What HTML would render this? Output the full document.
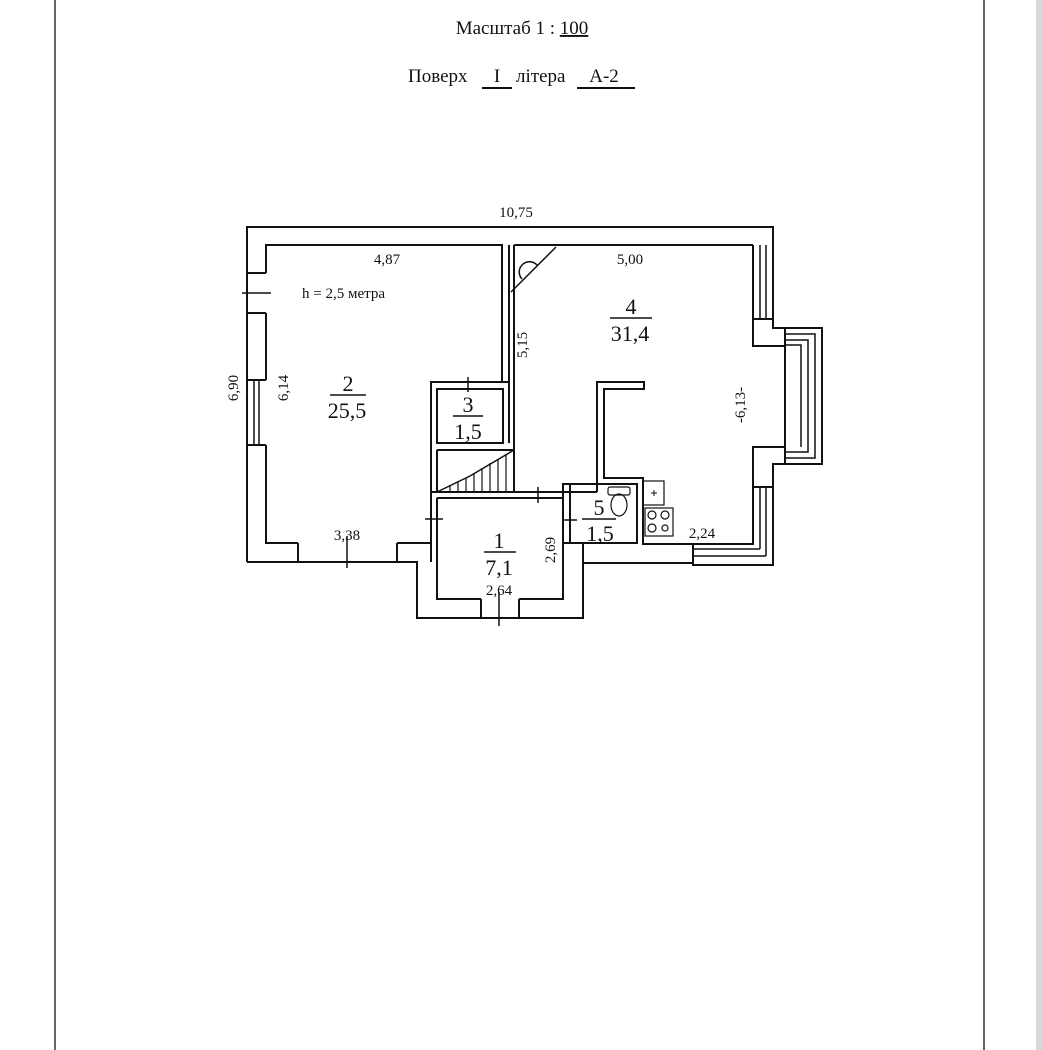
<!DOCTYPE html>
<html><head><meta charset="utf-8"><style>
html,body{margin:0;padding:0;background:#fff;}
svg{display:block;}
text{font-family:"Liberation Serif",serif;fill:#111;}
</style></head><body>
<svg width="1043" height="1050" viewBox="0 0 1043 1050" xmlns="http://www.w3.org/2000/svg">
<rect x="0" y="0" width="1043" height="1050" fill="#fff"/>
<rect x="1036" y="0" width="7" height="1050" fill="#d8d8d8"/>
<line x1="55" y1="0" x2="55" y2="1050" stroke="#333" stroke-width="1.5"/>
<line x1="984" y1="0" x2="984" y2="1050" stroke="#333" stroke-width="1.5"/>

<text x="522" y="34" font-size="19" text-anchor="middle">Масштаб 1 : <tspan text-decoration="underline">100</tspan></text>
<text x="408" y="82" font-size="19">Поверх</text>
<line x1="482" y1="88" x2="512" y2="88" stroke="#111" stroke-width="2"/>
<text x="497" y="82" font-size="19" text-anchor="middle">I</text>
<text x="516" y="82" font-size="19">літера</text>
<line x1="577" y1="88" x2="635" y2="88" stroke="#111" stroke-width="2"/>
<text x="604" y="82" font-size="19" text-anchor="middle">А-2</text>

<g fill="none" stroke="#111" stroke-width="2">
<!-- outer outline -->
<polyline points="247,562 247,227 773,227 773,319"/>
<polyline points="773,487 773,565 693,565 693,563 583,563 583,618 417,618 417,562 247,562"/>
<!-- room 2 inner -->
<polyline points="266,273 266,245 502,245 502,382 431,382 431,543 397,543"/>
<polyline points="298,543 266,543 266,445"/>
<line x1="266" y1="313" x2="266" y2="380"/>
<!-- left wall windows -->
<line x1="247" y1="273" x2="266" y2="273"/>
<line x1="247" y1="313" x2="266" y2="313"/>
<line x1="247" y1="380" x2="266" y2="380"/>
<line x1="247" y1="445" x2="266" y2="445"/>
<line x1="254" y1="380" x2="254" y2="445" stroke-width="1.5"/>
<line x1="259" y1="380" x2="259" y2="445" stroke-width="1.5"/>
<line x1="242" y1="293" x2="271" y2="293" stroke-width="1.5"/>
<!-- bottom window room 2 -->
<line x1="298" y1="543" x2="298" y2="562"/>
<line x1="397" y1="543" x2="397" y2="562"/>
<line x1="347" y1="536" x2="347" y2="568" stroke-width="1.5"/>
<!-- partition 2/4 -->
<line x1="509" y1="245" x2="509" y2="382"/>
<line x1="514" y1="245" x2="514" y2="450"/>
<!-- room 3 -->
<rect x="437" y="389" width="66" height="54"/>
<line x1="502" y1="382" x2="509" y2="382"/>
<line x1="509" y1="382" x2="509" y2="443"/>
<line x1="468" y1="377" x2="468" y2="392" stroke-width="1.5"/>
<!-- stair -->
<polyline points="437,450 514,450 514,492"/>
<line x1="437" y1="450" x2="437" y2="492"/>
<line x1="431" y1="492" x2="597" y2="492"/>
<line x1="437" y1="498" x2="563" y2="498"/>
<polyline points="437,492 470,476 514,450" stroke-width="1.5"/>
<g stroke-width="1.2"><line x1="450" y1="485" x2="450" y2="492"/><line x1="458" y1="481" x2="458" y2="492"/><line x1="466" y1="478" x2="466" y2="492"/><line x1="474" y1="473" x2="474" y2="492"/><line x1="482" y1="468" x2="482" y2="492"/><line x1="490" y1="463" x2="490" y2="492"/><line x1="498" y1="459" x2="498" y2="492"/><line x1="506" y1="454" x2="506" y2="492"/></g>
<line x1="538" y1="487" x2="538" y2="503" stroke-width="1.5"/>
<!-- room 1 -->
<polyline points="437,498 437,599 481,599"/>
<polyline points="519,599 563,599 563,498"/>
<line x1="481" y1="599" x2="481" y2="618"/>
<line x1="519" y1="599" x2="519" y2="618"/>
<line x1="499" y1="592" x2="499" y2="626" stroke-width="1.5"/>
<line x1="431" y1="543" x2="431" y2="562"/>
<line x1="425" y1="519" x2="443" y2="519" stroke-width="1.5"/>
<!-- room 5 -->
<polyline points="563,498 563,484 597,484"/>
<rect x="570" y="484" width="67" height="59"/>
<line x1="563" y1="543" x2="570" y2="543"/>
<line x1="563" y1="520" x2="577" y2="520" stroke-width="1.5"/>
<!-- L partition -->
<polyline points="597,492 597,382 644,382 644,389 604,389 604,478 643,478 643,544 753,544 753,487"/>
<!-- right wall -->
<line x1="753" y1="245" x2="753" y2="319"/>
<line x1="514" y1="245" x2="753" y2="245"/>
<line x1="760" y1="245" x2="760" y2="319" stroke-width="1.5"/>
<line x1="766" y1="245" x2="766" y2="319" stroke-width="1.5"/>
<polyline points="753,319 773,319 773,328 785,328 785,346 753,346 753,319"/>
<polyline points="773,328 822,328 822,464 773,464"/>
<polyline points="785,346 785,447 753,447 753,487 773,487 773,464 785,464 785,447"/>
<g stroke-width="1.5"><polyline points="785,334 815,334 815,458 785,458"/><polyline points="785,340 808,340 808,452 785,452"/><polyline points="785,345 801,345 801,447"/></g>
<line x1="760" y1="487" x2="760" y2="549" stroke-width="1.5"/>
<line x1="766" y1="487" x2="766" y2="556" stroke-width="1.5"/>
<polyline points="693,549 760,549" stroke-width="1.5"/>
<polyline points="693,556 766,556" stroke-width="1.5"/>
<line x1="693" y1="544" x2="693" y2="565"/>
<line x1="583" y1="563" x2="583" y2="544"/>
<!-- door -->
<line x1="511" y1="292" x2="556" y2="247" stroke-width="1.5"/>
<path d="M522,279 A7,7 0 0 1 537,265" stroke-width="1.5"/>
<!-- toilet -->
<rect x="608" y="487" width="22" height="8" rx="2" stroke-width="1.2"/>
<ellipse cx="619" cy="505" rx="8" ry="11" stroke-width="1.2"/>
<!-- kitchen -->
<rect x="643" y="481" width="21" height="24" stroke-width="1.2"/>
<rect x="645" y="508" width="28" height="28" stroke-width="1.2"/>
<circle cx="652" cy="515" r="4" stroke-width="1.2"/><circle cx="665" cy="515" r="4" stroke-width="1.2"/>
<circle cx="652" cy="528" r="4" stroke-width="1.2"/><circle cx="665" cy="528" r="3" stroke-width="1.2"/>
<line x1="651" y1="493" x2="657" y2="493" stroke-width="1"/><line x1="654" y1="490" x2="654" y2="496" stroke-width="1"/>
<!-- fraction bars -->
<line x1="330" y1="395" x2="366" y2="395" stroke-width="1.5"/>
<line x1="453" y1="416" x2="483" y2="416" stroke-width="1.5"/>
<line x1="610" y1="318" x2="652" y2="318" stroke-width="1.5"/>
<line x1="484" y1="552" x2="516" y2="552" stroke-width="1.5"/>
<line x1="582" y1="519" x2="616" y2="519" stroke-width="1.5"/>
</g>

<g font-size="15">
<text x="516" y="217" text-anchor="middle">10,75</text>
<text x="387" y="264" text-anchor="middle">4,87</text>
<text x="302" y="298">h = 2,5 метра</text>
<text x="630" y="264" text-anchor="middle">5,00</text>
<text x="347" y="540" text-anchor="middle">3,38</text>
<text x="499" y="595" text-anchor="middle">2,64</text>
<text x="702" y="538" text-anchor="middle">2,24</text>
<text transform="translate(238,388) rotate(-90)" text-anchor="middle">6,90</text>
<text transform="translate(288,388) rotate(-90)" text-anchor="middle">6,14</text>
<text transform="translate(527,345) rotate(-90)" text-anchor="middle">5,15</text>
<text transform="translate(745,405) rotate(-90)" text-anchor="middle">-6,13-</text>
<text transform="translate(555,550) rotate(-90)" text-anchor="middle">2,69</text>
</g>
<g font-size="22" text-anchor="middle">
<text x="348" y="391">2</text>
<text x="347" y="418">25,5</text>
<text x="468" y="412">3</text>
<text x="468" y="439">1,5</text>
<text x="631" y="314">4</text>
<text x="630" y="341">31,4</text>
<text x="499" y="548">1</text>
<text x="499" y="575">7,1</text>
<text x="599" y="515">5</text>
<text x="600" y="541">1,5</text>
</g>
</svg>
</body></html>
